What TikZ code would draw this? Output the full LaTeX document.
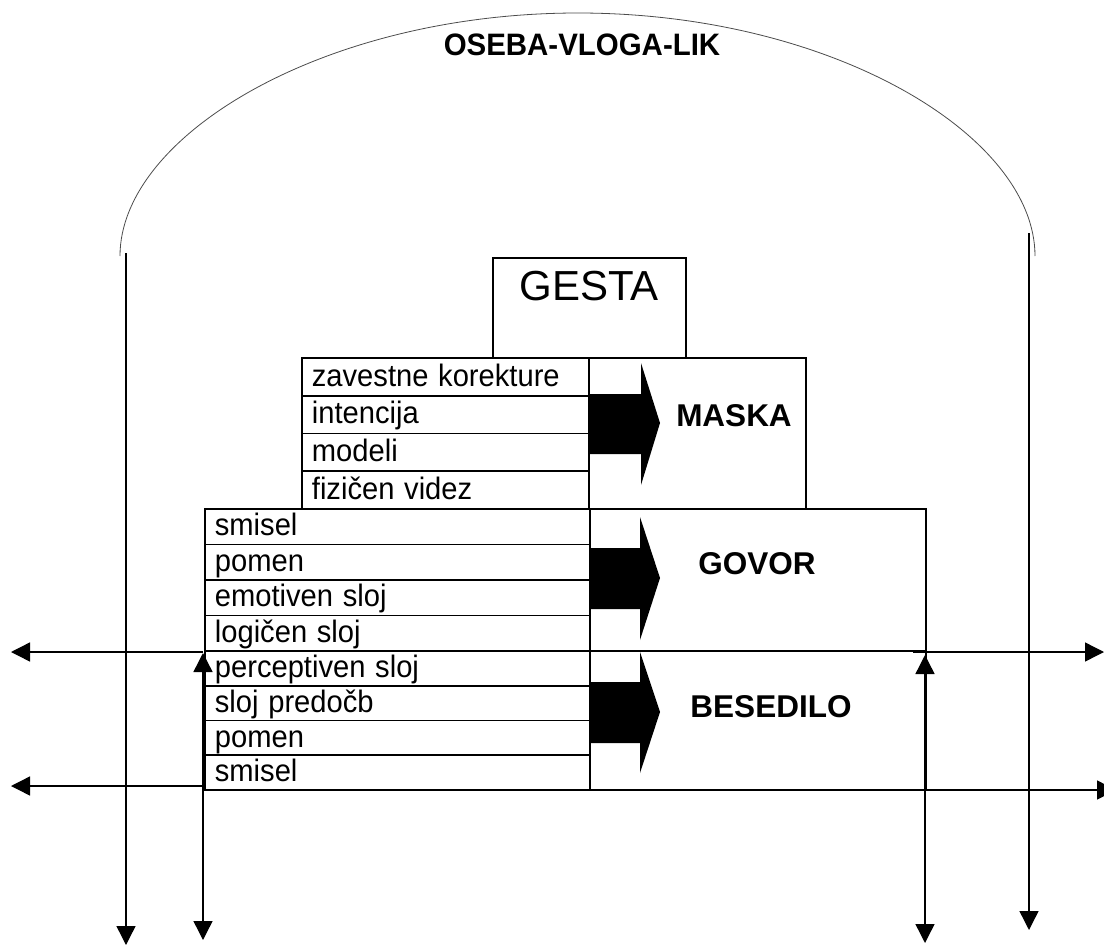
\documentclass[tikz,border=0pt]{standalone}
\usepackage{fontspec}
\usepackage{graphicx}
\setmainfont{Liberation Sans}
\usetikzlibrary{arrows.meta}
\newcommand{\rowfont}{\fontsize{31}{32}\selectfont}
\newcommand{\lblfont}{\bfseries\fontsize{31.5}{33}\selectfont}
\newcommand{\rt}[1]{\scalebox{0.94}[1]{#1}}
\begin{document}
\begin{tikzpicture}[x=1pt,y=-1pt,
  box/.style={draw, line width=1.8pt, anchor=north west, inner sep=0pt},
  rowtext/.style={box, align=left, font=\rowfont, text height=24pt, text depth=5.5pt},
  rowM/.style={rowtext, minimum width=287pt, minimum height=37.75pt, text width=267pt},
  rowG/.style={rowtext, minimum width=385pt, minimum height=35.5pt, text width=365pt},
  rowB/.style={rowtext, minimum width=385pt, minimum height=34.75pt, text width=365pt},
  lbl/.style={font=\lblfont, inner sep=0pt},
  conn/.style={line width=1.4pt, -{Triangle[length=19pt,width=19pt]}},
  dconn/.style={line width=1.4pt, {Triangle[length=19pt,width=19pt]}-{Triangle[length=19pt,width=19pt]}},
  blockarrow/.style={fill=black}
]
\useasboundingbox (0,0) rectangle (1104,945);
\fill[white] (0,0) rectangle (1104,945);

% outer arc and title
\draw[line width=0.8pt, black!70] (120,256) .. controls (120,135) and (325,13) .. (578,13) .. controls (831,13) and (1035,135) .. (1035,256);
\node[font=\bfseries\fontsize{31}{33}\selectfont, inner sep=0pt] (title) at (582,45) {\scalebox{0.95}[1]{OSEBA-VLOGA-LIK}};

% GESTA
\node[box, minimum width=193pt, minimum height=100pt] (gesta) at (492,257) {};
\node[font=\fontsize{42}{44}\selectfont, inner sep=0pt] (gestatxt) at (589,286) {GESTA};

% MASKA block
\node[rowM] (m1) at (301,357) {\rt{zavestne korekture}};
\node[rowM] (m2) at (301,394.75) {\rt{intencija}};
\node[rowM] (m3) at (301,432.5) {\rt{modeli}};
\node[rowM] (m4) at (301,470.25) {\rt{fizičen videz}};
\node[box, minimum width=217pt, minimum height=151pt] (maska) at (588,357) {};
\fill[blockarrow] (588,394) -- (641,394) -- (641,363) -- (660,423) -- (641,485) -- (641,454) -- (588,454) -- cycle;
\node[lbl] (maskatxt) at (734,416) {MASKA};

% GOVOR block
\node[rowG] (g1) at (204,508) {\rt{smisel}};
\node[rowG] (g2) at (204,543.5) {\rt{pomen}};
\node[rowG] (g3) at (204,579) {\rt{emotiven sloj}};
\node[rowG] (g4) at (204,614.5) {\rt{logičen sloj}};
\node[box, minimum width=336pt, minimum height=142pt] (govor) at (589,508) {};
\fill[blockarrow] (589,548) -- (640,548) -- (640,517) -- (660,578) -- (640,640) -- (640,609) -- (589,609) -- cycle;
\node[lbl] (govortxt) at (757,564) {GOVOR};

% BESEDILO block
\node[rowB] (b1) at (204,650) {\rt{perceptiven sloj}};
\node[rowB] (b2) at (204,684.75) {\rt{sloj predočb}};
\node[rowB] (b3) at (204,719.5) {\rt{pomen}};
\node[rowB] (b4) at (204,754.25) {\rt{smisel}};
\node[box, minimum width=336pt, minimum height=139pt] (besedilo) at (589,650) {};
\fill[blockarrow] (589,682) -- (640,682) -- (640,652) -- (660,712) -- (640,773) -- (640,743) -- (589,743) -- cycle;
\node[lbl] (besedilotxt) at (771,707) {BESEDILO};

% connector end points
\coordinate (lo1) at (126,253);
\coordinate (lo2) at (126,945);
\coordinate (li1) at (203,653);
\coordinate (li2) at (203,940);
\coordinate (ri1) at (925,655);
\coordinate (ri2) at (925,943);
\coordinate (ro1) at (1029,233);
\coordinate (ro2) at (1029,930);
\coordinate (h1a) at (203,652);
\coordinate (h1l) at (11,652);
\coordinate (h1b) at (913,652);
\coordinate (h1r) at (1104,652);
\coordinate (h2a) at (203,786);
\coordinate (h2l) at (11,786);
\coordinate (h2b) at (925,790);
\coordinate (h2r) at (1116,790);

\draw[conn] (lo1) -- (lo2);
\draw[dconn] (li1) -- (li2);
\draw[dconn] (ri1) -- (ri2);
\draw[conn] (ro1) -- (ro2);
\draw[conn] (h1a) -- (h1l);
\draw[conn] (h1b) -- (h1r);
\draw[conn] (h2a) -- (h2l);
\draw[conn] (h2b) -- (h2r);
\end{tikzpicture}
\end{document}
